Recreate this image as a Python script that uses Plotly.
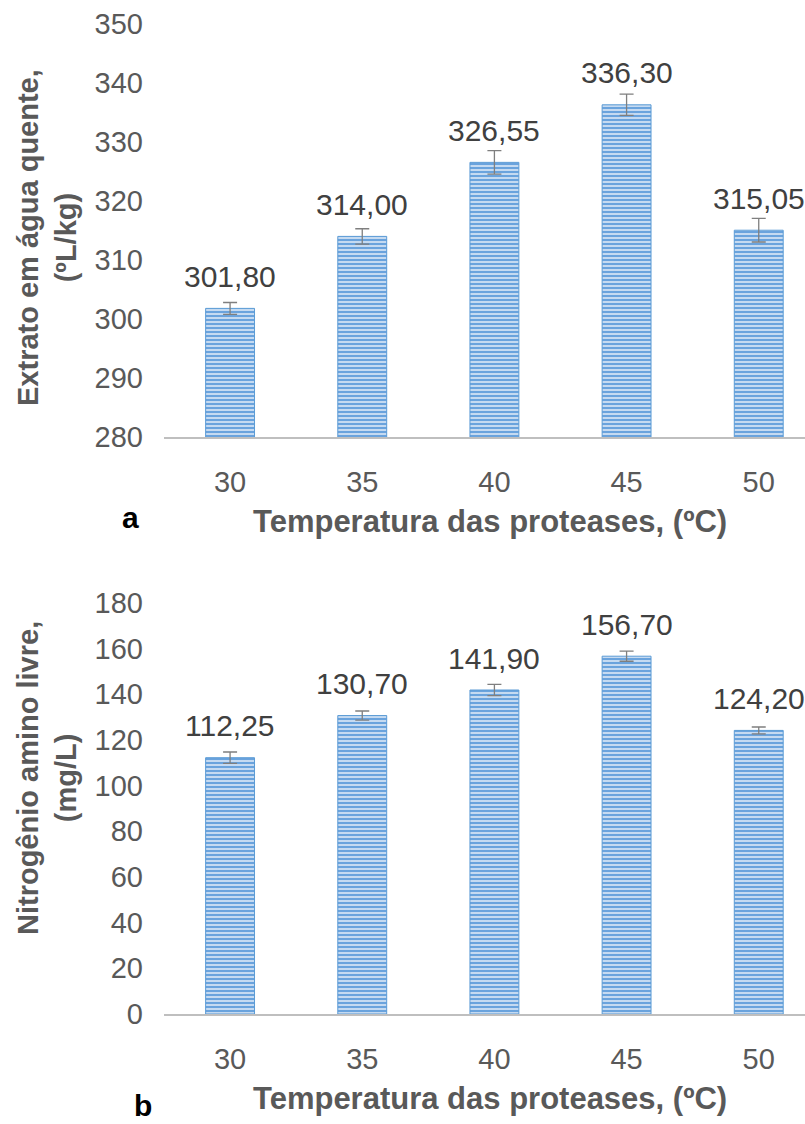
import plotly.graph_objects as go

categories = ["30", "35", "40", "45", "50"]
extrato = [301.80, 314.00, 326.55, 336.30, 315.05]
extrato_err = [1.0, 1.3, 2.0, 1.8, 2.0]
fan = [112.25, 130.70, 141.90, 156.70, 124.20]
fan_err = [2.5, 2.0, 2.5, 2.2, 1.5]
labels_a = ["301,80", "314,00", "326,55", "336,30", "315,05"]
labels_b = ["112,25", "130,70", "141,90", "156,70", "124,20"]
ticks_a = [280, 290, 300, 310, 320, 330, 340, 350]
ticks_b = [0, 20, 40, 60, 80, 100, 120, 140, 160, 180]

W, H = 805, 1124
FONT = "Liberation Sans, Arial, sans-serif"
GREY = "#595959"

fig = go.Figure()

def bar(y, err, xa, ya):
    return go.Bar(
        x=list(range(len(categories))), y=y, xaxis=xa, yaxis=ya, width=0.37,
        marker=dict(color="#6aa3dd", line=dict(color="#5b9bd5", width=1),
                    pattern=dict(shape="-", bgcolor="#6aa3dd", fgcolor="#dde9f7",
                                 size=4, solidity=0.4, fillmode="replace")),
        error_y=dict(type="data", array=err, visible=True, color="#7f7f7f",
                     thickness=1.3, width=7),
        showlegend=False, hoverinfo="skip")

fig.add_trace(bar(extrato, extrato_err, "x", "y"))
fig.add_trace(bar(fan, fan_err, "x2", "y2"))

for i, (v, t) in enumerate(zip(extrato, labels_a)):
    fig.add_annotation(x=i, y=v, xref="x", yref="y", text=t, showarrow=False,
                       yshift=32, font=dict(size=30, color="#404040", family=FONT))
for i, (v, t) in enumerate(zip(fan, labels_b)):
    fig.add_annotation(x=i, y=v, xref="x2", yref="y2", text=t, showarrow=False,
                       yshift=32, font=dict(size=30, color="#404040", family=FONT))

xcommon = dict(range=[-0.5, 4.35], domain=[164 / W, 1], tickmode="array",
               tickvals=list(range(5)), ticktext=categories, showgrid=False,
               showline=True, linecolor="#bfbfbf", linewidth=2, ticks="",
               tickfont=dict(size=29, color=GREY, family=FONT), ticklabelstandoff=18,
               zeroline=False, fixedrange=True)

fig.update_layout(
    width=W, height=H, margin=dict(l=0, r=0, t=0, b=0, autoexpand=False),
    plot_bgcolor="white", paper_bgcolor="white",
    xaxis=dict(**xcommon, anchor="y"),
    xaxis2=dict(**xcommon, anchor="y2"),
    yaxis=dict(domain=[1 - 437 / H, 1 - 24 / H], range=[280, 350], tickvals=ticks_a,
               showgrid=False, zeroline=False, showline=False, ticks="",
               tickfont=dict(size=29, color=GREY, family=FONT), ticklabelstandoff=20,
               anchor="x"),
    yaxis2=dict(domain=[1 - 1014 / H, 1 - 603 / H], range=[0, 180], tickvals=ticks_b,
                showgrid=False, zeroline=False, showline=False, ticks="",
                tickfont=dict(size=29, color=GREY, family=FONT), ticklabelstandoff=20,
                anchor="x2"),
    font=dict(family=FONT),
)

def ptxt(x, y, text, size=29, bold=True, color=GREY, angle=0):
    fig.add_annotation(x=x / W, y=1 - y / H, xref="paper", yref="paper",
                       text=f"<b>{text}</b>" if bold else text, showarrow=False,
                       textangle=angle, xanchor="center", yanchor="middle",
                       font=dict(size=size, color=color, family=FONT))

ptxt(490, 521, "Temperatura das proteases, (ºC)", size=31)
ptxt(490, 1098, "Temperatura das proteases, (ºC)", size=31)
ptxt(47, 238, "Extrato em água quente,<br>(ºL/kg)", angle=-90)
ptxt(47, 778, "Nitrogênio amino livre,<br>(mg/L)", angle=-90)
ptxt(130, 517, "a", size=30, color="black")
ptxt(143, 1105, "b", size=30, color="black")

fig.write_html("out.html")
